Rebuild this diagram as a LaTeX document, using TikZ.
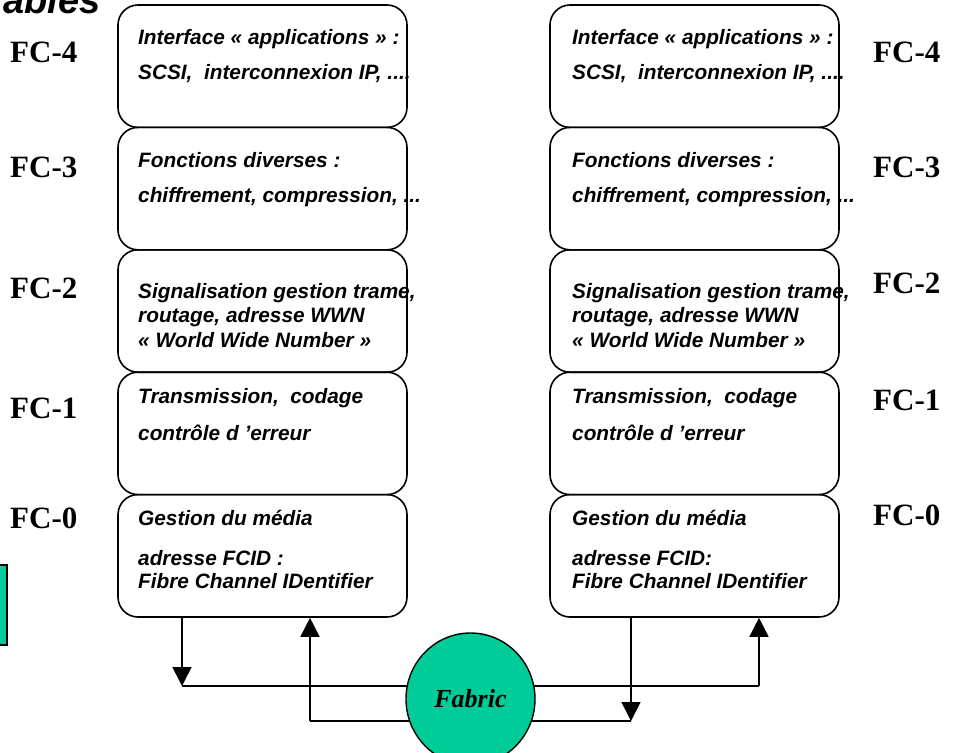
\documentclass[tikz,border=0pt]{standalone}
\usepackage{fontspec}
\setmainfont{Liberation Serif}
\setsansfont{Liberation Sans}
\usetikzlibrary{arrows.meta,shapes.geometric}
\definecolor{fabricgreen}{RGB}{0,204,153}
\tikzset{
  layer/.style={draw,line width=1.6pt,rounded corners=20pt,minimum width=289pt,minimum height=122.4pt,inner sep=0pt},
  layertext/.style={anchor=base west,inner sep=0pt,font=\sffamily\bfseries\itshape\fontsize{20.8}{24}\selectfont},
  fclabel/.style={anchor=base west,inner sep=0pt,font=\bfseries\fontsize{31}{36}\selectfont},
  link/.style={line width=1.6pt},
  linkarrow/.style={link,-{Triangle[length=19pt,width=19pt]}}
}
\begin{document}
\begin{tikzpicture}[x=1pt,y=-1pt]
    \useasboundingbox (0,0) rectangle (958,752);
    % cut-off title and side box
    \node[anchor=base east,inner sep=0pt,font=\sffamily\bfseries\itshape\fontsize{38}{44}\selectfont] (title) at (101,14) {ables};
    \draw[line width=1.4pt,fill=fabricgreen] (-10,565) rectangle (7,645);
    % the two stacks of layers
    \foreach \i/\n in {0/4,1/3,2/2,3/1,4/0}{
      \node[layer] (l\n) at (262.5,{66.2+122.4*\i}) {};
      \node[layer] (r\n) at (694.5,{66.2+122.4*\i}) {};
    }
    \foreach \n/\yl/\yr in {4/63/63,3/177/177,2/298/293,1/418/410,0/528/525}{
      \node[fclabel] (fcl\n) at (10,\yl) {FC-\n};
      \node[fclabel] (fcr\n) at (873,\yr) {FC-\n};
    }
    \foreach \s/\x/\fcid in {l/138/{adresse FCID :},r/572/{adresse FCID:}}{
      \node[layertext] (\s4a) at (\x,45) {Interface « applications » :};
      \node[layertext] (\s4b) at (\x,80) {SCSI,\ \ interconnexion IP, ....};
      \node[layertext] (\s3a) at (\x,167) {Fonctions diverses :};
      \node[layertext] (\s3b) at (\x,202) {chiffrement, compression, ...};
      \node[layertext] (\s2a) at (\x,298) {Signalisation gestion trame,};
      \node[layertext] (\s2b) at (\x,322) {routage, adresse WWN};
      \node[layertext] (\s2c) at (\x,347) {« World Wide Number »};
      \node[layertext] (\s1a) at (\x,403) {Transmission,\ \ codage};
      \node[layertext] (\s1b) at (\x,440) {contrôle d ’erreur};
      \node[layertext] (\s0a) at (\x,525) {Gestion du média};
      \node[layertext] (\s0b) at (\x,565) {\fcid};
      \node[layertext] (\s0c) at (\x,588) {Fibre Channel IDentifier};
    }
    % links through the fabric
    \coordinate (dl) at (182,686);
    \coordinate (ur) at (759,686);
    \coordinate (dr) at (631,721);
    \coordinate (ul) at (310,721);
    \draw[linkarrow] (l0.south -| dl) -- (dl);
    \draw[link] (dl) -- (ur);
    \draw[linkarrow] (ur) -- (r0.south -| ur);
    \draw[linkarrow] (r0.south -| dr) -- (dr);
    \draw[link] (dr) -- (ul);
    \draw[linkarrow] (ul) -- (l0.south -| ul);
    \node[ellipse,draw,fill=fabricgreen,line width=1.4pt,minimum width=129pt,minimum height=132pt,inner sep=0pt,
      font=\bfseries\itshape\fontsize{26}{30}\selectfont] (fabric) at (470.5,699) {Fabric};
\end{tikzpicture}
\end{document}
